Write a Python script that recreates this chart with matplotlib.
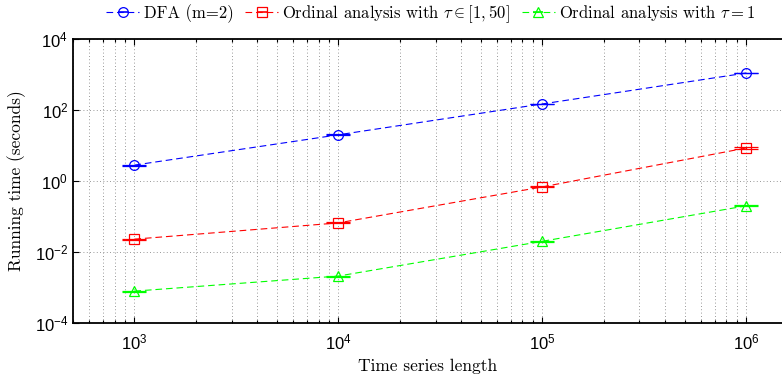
import matplotlib
matplotlib.use('Agg')
import matplotlib.pyplot as plt
from matplotlib.lines import Line2D
from matplotlib.ticker import LogLocator, NullLocator

plt.rcParams['mathtext.fontset'] = 'cm'
plt.rcParams['axes.unicode_minus'] = False

# running times (seconds) for each method vs series length
lengths = [1e3, 1e4, 1e5, 1e6]
dfa_time = [2.8, 20.0, 148.0, 1100.0]
dfa_err = [0.1, 0.6, 4.0, 30.0]
ord_range_time = [0.023, 0.066, 0.68, 8.5]
ord_range_err = [0.0008, 0.002, 0.02, 0.35]
ord_one_time = [7.9e-4, 2.1e-3, 0.020, 0.20]
ord_one_err = [2.5e-5, 7e-5, 6e-4, 0.008]

labels = ['DFA (m=2)',
          r'Ordinal analysis with $\tau \in [1,50]$',
          r'Ordinal analysis with $\tau = 1$']

fig = plt.figure(figsize=(7.82, 3.76), dpi=100)
ax = fig.add_axes([73 / 782, 53 / 376, 709 / 782, 284 / 376])

dash = (0, (6, 3.5))
series = [
    (dfa_time, dfa_err, 'o', (0, 0, 1)),
    (ord_range_time, ord_range_err, 's', (1, 0, 0)),
    (ord_one_time, ord_one_err, '^', (0, 1, 0)),
]
handles = []
for vals, err, mk, col in series:
    ax.errorbar(lengths, vals, yerr=err, fmt=mk, ls=dash, lw=0.8,
                color=col, mfc='none', mec=col, ms=7, mew=0.9,
                elinewidth=1.0, capsize=8.5, capthick=1.8)
    # legend key: dashed line + open marker with a bar through it
    h1 = Line2D([], [], ls=dash, lw=0.8, color=col, marker=mk,
                mfc='none', mec=col, ms=7, mew=0.9)
    h2 = Line2D([], [], ls='none', marker='_', color=col, ms=7, mew=1.2)
    handles.append((h1, h2))

ax.set_xscale('log')
ax.set_yscale('log')
ax.set_xlim(500, 1.5e6)
ax.set_ylim(1e-4, 1e4)

ax.set_yticks([1e-4, 1e-2, 1e0, 1e2, 1e4])
ax.yaxis.set_minor_locator(NullLocator())
ax.xaxis.set_minor_locator(LogLocator(base=10, subs=range(2, 10), numticks=20))

ax.grid(True, which='major', axis='both', ls=(0, (1, 3)), color='#777777', lw=0.6)
ax.grid(True, which='minor', axis='x', ls=(0, (1, 3)), color='#777777', lw=0.6)

ax.tick_params(which='both', direction='in', top=True, right=False,
               labelsize=12, width=0.8)
ax.tick_params(axis='x', which='major', pad=7)
ax.tick_params(which='major', length=4)
ax.tick_params(which='minor', length=2.5)
for lbl in ax.get_xticklabels() + ax.get_yticklabels():
    lbl.set_family('Liberation Sans')

for side in ('top', 'bottom', 'left'):
    ax.spines[side].set_linewidth(1.3)
ax.spines['right'].set_visible(False)

ax.set_xlabel('Time series length', family='cmr10', fontsize=12.5, labelpad=4)
ax.set_ylabel('Running time (seconds)', family='cmr10', fontsize=12.5, labelpad=6)

ax.legend(handles, labels, loc='center', bbox_to_anchor=(431 / 782, 1 - 14 / 376),
          bbox_transform=fig.transFigure, ncol=3, frameon=False,
          handlelength=2.0, handletextpad=0.25, columnspacing=0.7,
          prop={'family': 'cmr10', 'size': 12.0})

fig.savefig('out.png', dpi=100)
